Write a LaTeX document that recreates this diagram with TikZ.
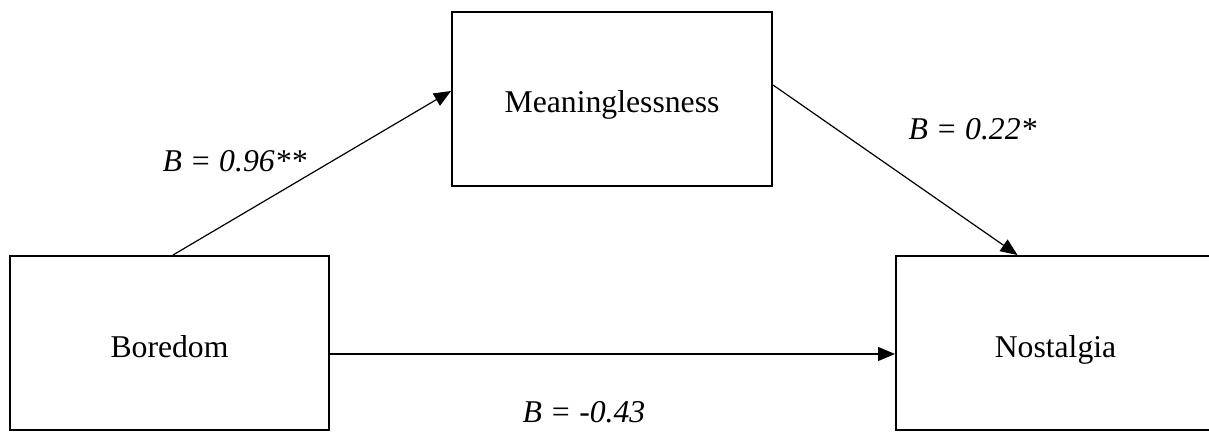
\documentclass[tikz,border=0pt]{standalone}
\usepackage{fontspec}
\setmainfont{Liberation Serif}
\usetikzlibrary{arrows.meta}
\begin{document}
\begin{tikzpicture}[x=1pt,y=-1pt,
  varbox/.style={draw=black,line width=2pt,minimum width=319pt,minimum height=174pt,inner sep=0pt,
    text height=28pt,text depth=0pt,font=\fontsize{31.7}{38}\selectfont},
  path/.style={draw=black,line width=1.2pt,-{Triangle[length=17pt,width=14pt]}},
  coef/.style={font=\fontsize{31.7}{38}\selectfont\itshape,anchor=base,inner sep=0pt}]
\useasboundingbox (0,0) rectangle (1209,435);
\clip (0,0) rectangle (1209,435);
\fill[white] (0,0) rectangle (1209,435);
\node[varbox] (bor) at (169.5,343) {Boredom};
\node[varbox,minimum width=320pt] (mea) at (612,99) {Meaninglessness};
\node[varbox] (nos) at (1055.5,343) {Nostalgia};
\draw[path] ([xshift=3.5pt]bor.north) -- ([yshift=8pt]mea.west);
\draw[path] ([yshift=14pt]mea.east) -- ([xshift=-38pt]nos.north);
\draw[path] ([yshift=-11pt]bor.east) -- ([yshift=-11pt]nos.west);
\node[coef] (l1) at (234.5,172) {B = 0.96**};
\node[coef] (l2) at (972.5,140) {B = 0.22*};
\node[coef] (l3) at (584,422) {B = -0.43};
\end{tikzpicture}
\end{document}
